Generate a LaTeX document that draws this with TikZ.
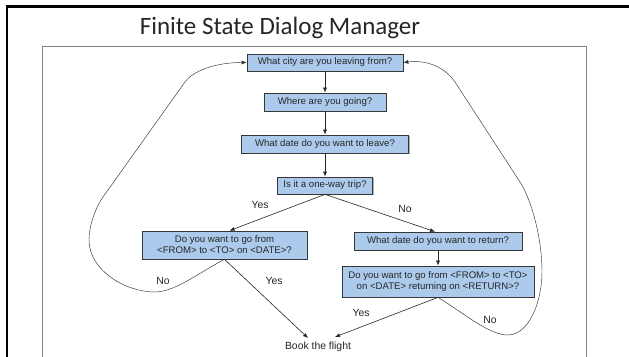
\documentclass[tikz,border=0pt]{standalone}
\usepackage{fontspec}
\setmainfont{Liberation Sans}
\newfontfamily\titlefont{Carlito}
\usetikzlibrary{arrows.meta,shadows,calc}
\definecolor{boxblue}{RGB}{172,203,236}
\definecolor{boxedge}{RGB}{55,55,55}
\begin{document}
\begin{tikzpicture}[x=1pt,y=-1pt,
  state/.style={draw=boxedge, line width=0.7pt, fill=boxblue,
    font=\fontsize{9.6}{11}\selectfont, text=black!85, align=center, inner sep=0pt,
    drop shadow={shadow xshift=1.4pt,shadow yshift=-1.4pt,opacity=0.5,fill=black!60}},
  flow/.style={-{Latex[length=5pt,width=4pt]}, line width=0.6pt, draw=black!85},
  loopback/.style={-{Latex[length=5pt,width=4pt]}, line width=0.45pt, draw=black!80},
  lbl/.style={font=\fontsize{10.4}{12}\selectfont, text=black!85, inner sep=0pt}]

\useasboundingbox (0,0) rectangle (629,356);
\fill[white] (0,0) rectangle (629,356);

% slide frame and inner panel
\draw[line width=2.4pt] (7.2,360) -- (7.2,6.5) -- (635,6.5);
\draw[black!50, line width=0.9pt] (42.5,360) -- (42.5,46) -- (586,46) -- (586,360);

% title
\node[font=\titlefont\fontsize{25}{30}\selectfont, anchor=base, text=black!85] (title) at (280,34) {Finite State Dialog Manager};

% states
\node[state, minimum width=156pt, minimum height=17pt] (b1) at (325,62.5) {What city are you leaving from?};
\node[state, minimum width=122pt, minimum height=18pt] (b2) at (325,102) {Where are you going?};
\node[state, minimum width=167pt, minimum height=18pt] (b3) at (325,144) {What date do you want to leave?};
\node[state, minimum width=95pt, minimum height=17pt] (b4) at (325,185.5) {Is it a one-way trip?};
\node[state, minimum width=165pt, minimum height=28pt] (b5) at (224.5,245) {Do you want to go from\\<FROM> to <TO> on <DATE>?};
\node[state, minimum width=168pt, minimum height=18pt] (b6) at (438,241) {What date do you want to return?};
\node[state, minimum width=192pt, minimum height=31pt] (b7) at (438,281.5) {Do you want to go from <FROM> to <TO>\\on <DATE> returning on <RETURN>?};
\node[lbl] (book) at (318,347) {Book the flight};

% straight connectors
\draw[flow] (b1.south) -- (b2.north);
\draw[flow] (b2.south) -- (b3.north);
\draw[flow] (b3.south) -- (b4.north);
\draw[flow] (b4.south) -- ($(b5.north)+(5,0)$);
\draw[flow] (b4.south) -- ($(b6.north)+(-3,0)$);
\draw[flow] (b6.south) -- (b7.north);
\draw[flow] (b5.south) -- ($(book.center)+(-10,-9)$);
\draw[flow] (b7.south) -- ($(book.center)+(17,-10)$);

% loop-back curves
\draw[loopback] (b5.south) .. controls (200,272) and (175,292) .. (155,292)
  .. controls (125,292) and (89,270) .. (89,240)
  .. controls (89,225) and (96,207) .. (103,197) -- (185,82)
  .. controls (193,71) and (215,62.5) .. (b1.west);
\draw[loopback] (b7.south) .. controls (465,314) and (490,335.5) .. (508,335)
  .. controls (530,334.5) and (542,300) .. (542,272)
  .. controls (542,235) and (530,197) .. (520,182) -- (455,82)
  .. controls (448.5,72) and (432,59) .. (b1.east);

% labels
\node[lbl] (l1) at (260,205) {Yes};
\node[lbl] (l2) at (405,209) {No};
\node[lbl] (l3) at (163,281) {No};
\node[lbl] (l4) at (274,281) {Yes};
\node[lbl] (l5) at (361,313) {Yes};
\node[lbl] (l6) at (490,320) {No};
\end{tikzpicture}
\end{document}
